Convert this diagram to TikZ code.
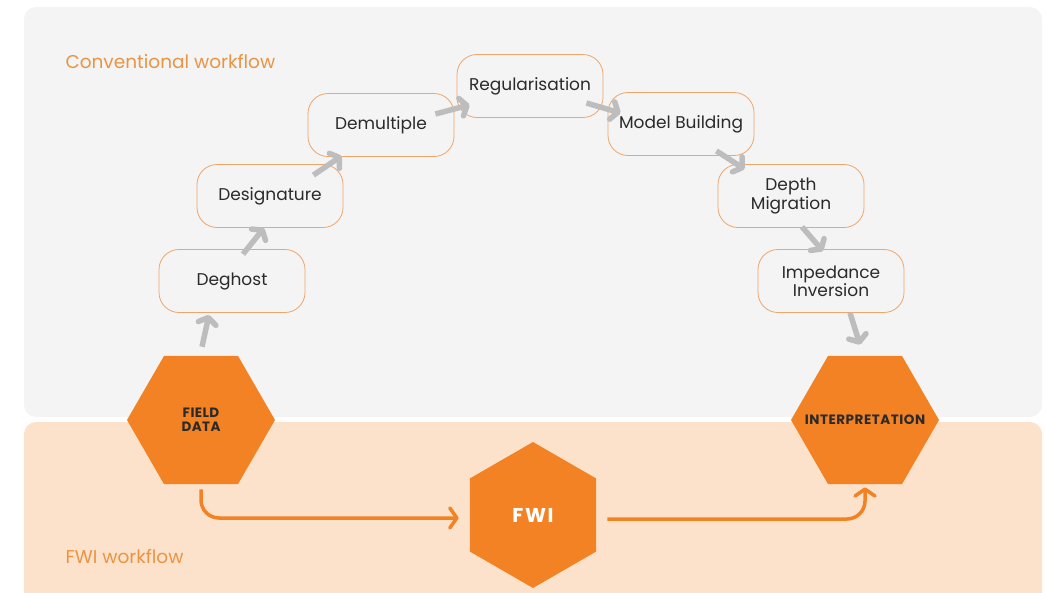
\documentclass[tikz,border=0pt]{standalone}
\usepackage{fontspec}
\setmainfont{Poppins}
\usetikzlibrary{shapes.geometric}
\usetikzlibrary{arrows.meta}
\definecolor{panelgray}{HTML}{F4F4F4}
\definecolor{peach}{HTML}{FDE2CB}
\definecolor{hexorange}{HTML}{F28223}
\definecolor{laneorange}{HTML}{E99443}
\definecolor{boxedge}{HTML}{EFA66A}
\definecolor{arrowgray}{HTML}{BDBDBD}
\definecolor{textdark}{HTML}{2A2A2A}
\tikzset{stage/.style={draw=boxedge, line width=0.8pt, fill=panelgray,
   rounded corners=20pt, minimum width=146pt, minimum height=63pt,
   align=center, text=textdark, font=\fontsize{17}{17}\selectfont},
 hexa/.style={regular polygon, regular polygon sides=6, fill=hexorange,
   inner sep=0pt, minimum size=148pt, align=center, text=textdark,
   font=\bfseries\fontsize{13.5}{13.5}\selectfont\addfontfeature{LetterSpace=3}},
 grayflow/.style={draw=arrowgray, line width=5.5pt,
   -{Straight Barb[length=6pt,width=18pt,round]}},
 orangeflow/.style={draw=hexorange, line width=3.5pt, rounded corners=18pt,
   -{Straight Barb[length=7pt,width=20pt,round]}},
 lane/.style={anchor=west, text=laneorange, font=\fontsize{18.5}{20}\selectfont},
 }

\begin{document}
\begin{tikzpicture}[x=1pt,y=-1pt]
        \clip (0,0) rectangle (1046,592);
        % the two workflow lanes
        \fill[panelgray, rounded corners=12pt] (24,7) rectangle (1042,417);
        \fill[peach, rounded corners=12pt] (24,422) rectangle (1042,610);
        \node[lane] (conv) at (62,62) {Conventional workflow};
        \node[lane] (fwilane) at (62,557) {FWI workflow};

        \node[hexa] (field) at (201,420) {FIELD\\DATA};
        \node[hexa] (interp) at (865,420) {\makebox[0pt]{\addfontfeature{LetterSpace=4}INTERPRETATION}};
        \node[hexa, shape border rotate=90, minimum size=146pt, text=white,
              font=\bfseries\fontsize{20}{22}\selectfont\addfontfeature{LetterSpace=8}] (fwi) at (533,515) {FWI};

        \node[stage] (deghost) at (232,281) {Deghost};
        \node[stage] (desig) at (270,196) {Designature};
        \node[stage] (demult) at (381,125) {Demultiple};
        \node[stage] (regul) at (530,86) {Regularisation};
        \node[stage] (model) at (681,124) {Model Building};
        \node[stage] (depth) at (791,196) {Depth\\Migration};
        \node[stage] (imped) at (831,281) {Impedance\\Inversion};

        \draw[grayflow] ([xshift=1pt,yshift=9pt]field.north) -- ([xshift=-23pt,yshift=-2pt]deghost.south);
        \draw[grayflow] ([xshift=11pt,yshift=-5pt]deghost.north) -- ([xshift=-6pt]desig.south);
        \draw[grayflow] ([xshift=-30pt,yshift=-11pt]desig.north east) -- ([xshift=34pt,yshift=1pt]demult.south west);
        \draw[grayflow] ([xshift=-19pt,yshift=11pt]demult.east) -- ([xshift=13pt,yshift=13pt]regul.south west);
        \draw[grayflow] ([xshift=-17pt,yshift=-17pt]regul.east) -- ([xshift=13pt,yshift=11pt]model.west);
        \draw[grayflow] ([xshift=-38pt,yshift=5pt]model.south east) -- ([xshift=27pt,yshift=-5pt]depth.north west);
        \draw[grayflow] ([xshift=11pt,yshift=1pt]depth.south) -- ([xshift=-8pt,yshift=-2pt]imped.north);
        \draw[grayflow] ([xshift=19pt]imped.south) -- ([xshift=-5pt,yshift=11pt]interp.north);

        \draw[orangeflow] ([yshift=-5pt]field.south) |- ([xshift=-11pt,yshift=-3pt]fwi.west);
        \draw[orangeflow] ([xshift=11pt,yshift=-4pt]fwi.east) -| ([yshift=-3pt]interp.south);
    \end{tikzpicture}
\end{document}
